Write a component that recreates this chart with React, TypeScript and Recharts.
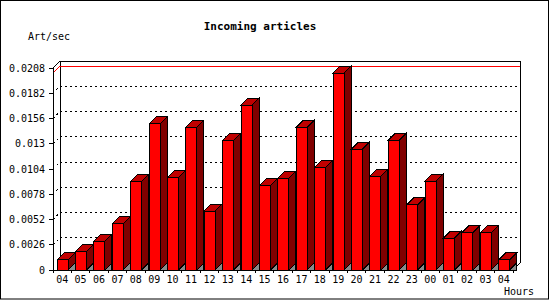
import { Bar, BarChart, CartesianGrid, ReferenceLine, XAxis, YAxis } from 'recharts'

const hours = ['04', '05', '06', '07', '08', '09', '10', '11', '12', '13', '14', '15', '16', '17', '18', '19', '20', '21', '22', '23', '00', '01', '02', '03', '04']
const artPerSec = [
  0.00103, 0.00188, 0.00298, 0.00476, 0.00915, 0.01504, 0.00949, 0.0147, 0.00607, 0.01337, 0.01696, 0.00867, 0.00946,
  0.0147, 0.01059, 0.02026, 0.01244, 0.00966, 0.01337, 0.00671, 0.00915, 0.00329, 0.00384, 0.00384, 0.00103,
]
const yTicks = [0, 0.0026, 0.0052, 0.0078, 0.0104, 0.013, 0.0156, 0.0182, 0.0208]

const data = hours.map((hour, i) => ({ i, hour, value: artPerSec[i] }))
const maxValue = Math.max(...artPerSec)

const W = 550
const H = 300
const MARGIN = { top: 68, right: 37, left: 0, bottom: 0 }
const Y_AXIS_W = 53
const X_AXIS_H = 30
const DEPTH = 7
const PLOT_LEFT = MARGIN.left + Y_AXIS_W
const PLOT_RIGHT = W - MARGIN.right
const PLOT_TOP = MARGIN.top
const PLOT_BOTTOM = H - MARGIN.bottom - X_AXIS_H
const BAND = (PLOT_RIGHT - PLOT_LEFT) / hours.length
const FONT = '"DejaVu Sans Mono", "Liberation Mono", monospace'

// 3d box: front face, top face, right side and the grey floor shadow
function Box3D(props: any) {
  const { x, y, width, height } = props
  if (height == null || width == null) return null
  const d = DEPTH
  const r = x + width
  const b = y + height
  return (
    <g stroke="#000" strokeWidth={1}>
      <polygon points={`${r},${b} ${r + d},${b - d} ${r + d},${b}`} fill="#8a8a8a" />
      <polygon points={`${r},${y} ${r + d},${y - d} ${r + d},${b - d} ${r},${b}`} fill="#800000" />
      <polygon points={`${x},${y} ${x + d},${y - d} ${r + d},${y - d} ${r},${y}`} fill="#c00000" />
      <rect x={x} y={y} width={width} height={height} fill="#ff0000" />
    </g>
  )
}

// grid lines sit on the back wall, joined to the front axis by a diagonal
function BackGridLine(props: any) {
  const { x1, x2, y1, index } = props
  const d = DEPTH
  if (Math.abs(y1 - PLOT_BOTTOM) < 1) {
    return <line key={`g${index}`} x1={x2} y1={y1} x2={x2 + d} y2={y1 - d} stroke="#000" />
  }
  if (Math.abs(y1 - PLOT_TOP) < 1) {
    return (
      <g key={`g${index}`} stroke="#000" fill="none">
        <polyline points={`${x1},${y1} ${x1 + d},${y1 - d} ${x2 + d},${y1 - d} ${x2 + d},${PLOT_BOTTOM - d}`} />
        <line x1={x1 + d} y1={y1 - d} x2={x1 + d} y2={PLOT_BOTTOM - d} />
      </g>
    )
  }
  return (
    <polyline
      key={`g${index}`}
      points={`${x1},${y1} ${x1 + d},${y1 - d} ${x2 + d},${y1 - d}`}
      stroke="#000"
      strokeDasharray="2 3"
      fill="none"
    />
  )
}

function MaxLine(props: any) {
  const { x1, x2, y1 } = props
  const d = DEPTH
  return <polyline points={`${x1},${y1} ${x1 + d},${y1 - d} ${x2 + d},${y1 - d}`} stroke="#ff0000" fill="none" />
}

function XTick(props: any) {
  const { x, y, payload, index } = props
  const half = BAND / 2
  return (
    <g>
      <line x1={x - half} y1={PLOT_BOTTOM} x2={x - half} y2={PLOT_BOTTOM + 3} stroke="#000" />
      {index === hours.length - 1 && (
        <line x1={x + half} y1={PLOT_BOTTOM} x2={x + half} y2={PLOT_BOTTOM + 3} stroke="#000" />
      )}
      <text x={x} y={y + 13} textAnchor="middle" fontSize={10} fontFamily={FONT} fill="#000">
        {hours[payload.value]}
      </text>
    </g>
  )
}

function YTick(props: any) {
  const { x, y, payload } = props
  return (
    <g>
      <line x1={x - 4} y1={y} x2={x} y2={y} stroke="#000" />
      <text x={x - 8} y={y + 3.5} textAnchor="end" fontSize={10} fontFamily={FONT} fill="#000">
        {String(payload.value)}
      </text>
    </g>
  )
}

export default function App() {
  return (
    <div style={{ position: 'absolute', left: 0, top: 0, width: W, height: H, background: '#fff' }}>
      <BarChart width={W} height={H} data={data} margin={MARGIN} style={{ shapeRendering: 'crispEdges' }}>
        <CartesianGrid horizontal={BackGridLine} vertical={false} />
        <ReferenceLine y={maxValue} stroke="#ff0000" shape={MaxLine} zIndex={-50} />
        <XAxis
          dataKey="i"
          height={X_AXIS_H}
          interval={0}
          tickLine={false}
          tickSize={0}
          tickMargin={0}
          axisLine={{ stroke: '#000' }}
          tick={XTick}
        />
        <YAxis
          width={Y_AXIS_W}
          domain={[0, yTicks[yTicks.length - 1]]}
          ticks={yTicks}
          interval={0}
          tickLine={false}
          tickSize={0}
          tickMargin={0}
          axisLine={{ stroke: '#000' }}
          tick={YTick}
        />
        <Bar dataKey="value" barSize={11} shape={Box3D} isAnimationActive={false} />
      </BarChart>
      <svg
        width={W}
        height={H}
        style={{ position: 'absolute', left: 0, top: 0, pointerEvents: 'none' }}
        fontFamily={FONT}
      >
        <rect x={0.5} y={0.5} width={548} height={298.5} fill="none" stroke="#000" />
        <text x={260} y={30} textAnchor="middle" fontSize={11} fontWeight="bold">
          Incoming articles
        </text>
        <text x={28} y={40} fontSize={10}>
          Art/sec
        </text>
        <text x={504} y={295} fontSize={10}>
          Hours
        </text>
      </svg>
    </div>
  )
}
